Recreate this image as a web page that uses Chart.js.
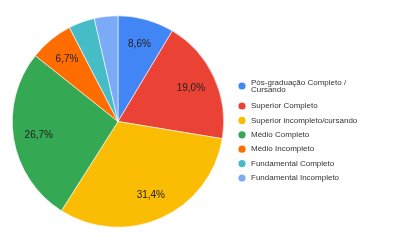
<!DOCTYPE html>
<html>
<head>
<meta charset="utf-8">
<script src="https://cdn.jsdelivr.net/npm/chart.js@4"></script>
<style>
  html, body { margin: 0; padding: 0; background: #fff; }
  #wrap { width: 395px; height: 243px; position: relative; }
</style>
</head>
<body>
<div id="wrap"><canvas id="pieChart"></canvas></div>
<script>
// dados da pizza
const categories = [
  ['Pós-graduação Completo /', 'Cursando'],
  ['Superior Completo'],
  ['Superior incompleto/cursando'],
  ['Médio Completo'],
  ['Médio Incompleto'],
  ['Fundamental Completo'],
  ['Fundamental Incompleto']
];
const percents = [8.6, 19.0, 31.4, 26.7, 6.7, 4.0, 3.6];
const colors = ['#4285F4', '#EA4335', '#FBBC04', '#34A853', '#FF6D01', '#46BDC6', '#7BAAF7'];

// rótulos dentro das fatias
const sliceLabels = {
  id: 'sliceLabels',
  afterDatasetsDraw(chart) {
    const { ctx } = chart;
    const meta = chart.getDatasetMeta(0);
    ctx.save();
    ctx.font = '10px Arial, "Liberation Sans", sans-serif';
    ctx.fillStyle = '#222';
    ctx.textAlign = 'center';
    ctx.textBaseline = 'middle';
    meta.data.forEach((arc, i) => {
      if (percents[i] < 5) return;
      const mid = (arc.startAngle + arc.endAngle) / 2;
      const r = arc.outerRadius * 0.76;
      const x = arc.x + Math.cos(mid) * r;
      const y = arc.y + Math.sin(mid) * r;
      ctx.fillText(percents[i].toFixed(1).replace('.', ',') + '%', x, y);
    });
    ctx.restore();
  }
};

// legenda à direita
const sideLegend = {
  id: 'sideLegend',
  afterDraw(chart) {
    const { ctx } = chart;
    ctx.save();
    ctx.font = '8px Arial, "Liberation Sans", sans-serif';
    ctx.textBaseline = 'middle';
    let y = 86;
    categories.forEach((lines, i) => {
      ctx.fillStyle = colors[i];
      ctx.beginPath();
      ctx.arc(242, y, 3.6, 0, Math.PI * 2);
      ctx.fill();
      ctx.fillStyle = '#333';
      const top = y - (lines.length - 1) * 3.5;
      lines.forEach((t, j) => ctx.fillText(t, 251, top + j * 7.5));
      y += lines.length > 1 ? 20 : 14.4;
    });
    ctx.restore();
  }
};

new Chart(document.getElementById('pieChart'), {
  type: 'pie',
  data: {
    labels: categories.map(l => l.join(' ')),
    datasets: [{
      data: percents,
      backgroundColor: colors,
      borderColor: '#fff',
      borderWidth: 0.6
    }]
  },
  options: {
    responsive: true,
    maintainAspectRatio: false,
    animation: false,
    layout: { padding: { left: 12, right: 171, top: 15, bottom: 15 } },
    plugins: { legend: { display: false }, tooltip: { enabled: false } }
  },
  plugins: [sliceLabels, sideLegend]
});
</script>
</body>
</html>
